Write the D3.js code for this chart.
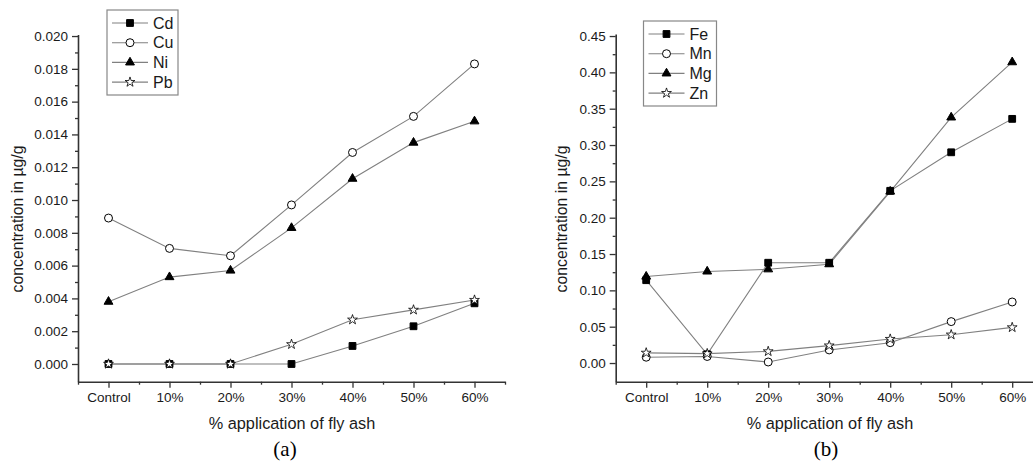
<!DOCTYPE html>
<html>
<head>
<meta charset="utf-8">
<script src="https://cdn.jsdelivr.net/npm/d3@7"></script>
<style>
  body { margin: 0; background: #fff; }
  svg { display: block; font-family: "Liberation Sans", Arial, sans-serif; }
</style>
</head>
<body>
<div id="chart"></div>
<script>
// categories along x
const categories = ["Control", "10%", "20%", "30%", "40%", "50%", "60%"];

// panel (a) series
const cd = [0, 0, 0, 0, 0.0011, 0.0023, 0.0037];
const cu = [0.0089, 0.00705, 0.0066, 0.0097, 0.0129, 0.0151, 0.0183];
const ni = [0.0038, 0.0053, 0.0057, 0.0083, 0.0113, 0.0135, 0.0148];
const pb = [0, 0, 0, 0.0012, 0.0027, 0.0033, 0.0039];

// panel (b) series
const fe = [0.114, 0.012, 0.138, 0.138, 0.237, 0.290, 0.336];
const mn = [0.008, 0.009, 0.0014, 0.018, 0.028, 0.057, 0.084];
const mg = [0.119, 0.126, 0.129, 0.136, 0.236, 0.338, 0.414];
const zn = [0.014, 0.013, 0.016, 0.024, 0.033, 0.039, 0.049];

// tick labels
const ticksA = [0, 0.002, 0.004, 0.006, 0.008, 0.010, 0.012, 0.014, 0.016, 0.018, 0.020];
const ticksB = [0, 0.05, 0.10, 0.15, 0.20, 0.25, 0.30, 0.35, 0.40, 0.45];

const W = 1033, H = 461;
const svg = d3.select("#chart").append("svg")
    .attr("width", W)
    .attr("height", H);

const lineColor = "#808080", axisColor = "#333", textColor = "#1a1a1a";

function markerPath(shape) {
    switch (shape) {
        case "square": return d3.symbol(d3.symbolSquare, 46)();
        case "circle": return d3.symbol(d3.symbolCircle, 50)();
        case "triangle": return d3.symbol(d3.symbolTriangle, 34)();
        case "star": return d3.symbol(d3.symbolStar, 30)();
    }
}
function markerFill(shape) {
    return (shape === "square" || shape === "triangle") ? "#000" : "#fff";
}

function drawPanel(cfg) {
    const x = d3.scaleLinear().domain([-0.5, 6.5]).range([cfg.x0, cfg.x0 + 7 * 61]);
    const y = d3.scaleLinear().domain(cfg.yDomain).range([cfg.yBottom, cfg.yTop]);

    const g = svg.append("g");

    // minor y ticks
    g.append("g")
        .attr("transform", `translate(${cfg.x0},0)`)
        .call(d3.axisLeft(y).tickValues(cfg.minorY).tickSize(3).tickFormat("").tickSizeOuter(0))
        .call(a => a.select(".domain").remove());
    // major y ticks
    const ya = g.append("g")
        .attr("transform", `translate(${cfg.x0},0)`)
        .call(d3.axisLeft(y).tickValues(cfg.ticks).tickSize(6).tickPadding(4)
            .tickFormat(cfg.fmt).tickSizeOuter(0));
    ya.selectAll("text").attr("font-size", 13.5).attr("fill", textColor)
        .attr("font-family", "Liberation Sans, Arial, sans-serif");

    // minor x ticks
    g.append("g")
        .attr("transform", `translate(0,${cfg.yBottom})`)
        .call(d3.axisBottom(x).tickValues(d3.range(7).map(i => i - 0.5).concat([6.5])).tickSize(3).tickFormat("").tickSizeOuter(0))
        .call(a => a.select(".domain").remove());
    const xa = g.append("g")
        .attr("transform", `translate(0,${cfg.yBottom})`)
        .call(d3.axisBottom(x).tickValues(d3.range(7)).tickSize(6).tickPadding(5)
            .tickFormat(i => categories[i]).tickSizeOuter(0));
    xa.selectAll("text").attr("font-size", 13.5).attr("fill", textColor)
        .attr("font-family", "Liberation Sans, Arial, sans-serif");

    g.selectAll(".domain").attr("stroke", axisColor).attr("stroke-width", 1.6);
    g.selectAll(".tick line").attr("stroke", axisColor).attr("stroke-width", 1.3);

    // lines
    const line = d3.line().x((d, i) => x(i)).y(d => y(d));
    cfg.series.forEach(s => {
        g.append("path")
            .attr("d", line(s.values))
            .attr("fill", "none")
            .attr("stroke", lineColor)
            .attr("stroke-width", 1.1);
    });
    // markers
    cfg.series.forEach(s => {
        g.selectAll(null).data(s.values).enter().append("path")
            .attr("d", markerPath(s.shape))
            .attr("transform", (d, i) => `translate(${x(i)},${y(d)})`)
            .attr("fill", markerFill(s.shape))
            .attr("stroke", "#000")
            .attr("stroke-width", s.shape === "star" ? 0.8 : 1);
    });

    // axis titles
    g.append("text")
        .attr("x", cfg.xTitle)
        .attr("y", 429)
        .attr("text-anchor", "middle")
        .attr("font-size", 16.3)
        .attr("fill", textColor)
        .text("% application of fly ash");
    g.append("text")
        .attr("transform", `translate(${cfg.yTitleX},${219}) rotate(-90)`)
        .attr("text-anchor", "middle")
        .attr("font-size", 15.8)
        .attr("fill", textColor)
        .text("concentration in µg/g");
    g.append("text")
        .attr("x", cfg.xLabel)
        .attr("y", 456)
        .attr("text-anchor", "middle")
        .attr("font-size", 21)
        .attr("font-family", "Liberation Serif, Times New Roman, serif")
        .attr("fill", "#000")
        .text(cfg.label);

    // legend
    const lg = g.append("g").attr("transform", `translate(${cfg.legX},${cfg.legY})`);
    lg.append("rect")
        .attr("width", cfg.legW).attr("height", 85)
        .attr("fill", "#fff").attr("stroke", "#888").attr("stroke-width", 1.2);
    cfg.series.forEach((s, i) => {
        const yy = 13 + i * 19.7;
        lg.append("line")
            .attr("x1", 5).attr("x2", 41).attr("y1", yy).attr("y2", yy)
            .attr("stroke", lineColor).attr("stroke-width", 1.1);
        lg.append("path")
            .attr("d", markerPath(s.shape))
            .attr("transform", `translate(23,${yy})`)
            .attr("fill", markerFill(s.shape))
            .attr("stroke", "#000")
            .attr("stroke-width", s.shape === "star" ? 0.8 : 1);
        lg.append("text")
            .attr("x", 46).attr("y", yy).attr("dy", "0.36em")
            .attr("font-size", 16).attr("fill", textColor)
            .text(s.name);
    });
}

drawPanel({
    x0: 78,
    yBottom: 381.7, yTop: 34.4,
    yDomain: [-0.00108, 0.0201],
    ticks: ticksA,
    minorY: d3.range(0, 21).map(i => i * 0.001).filter(v => !ticksA.some(t => Math.abs(t - v) < 1e-9)),
    fmt: d3.format(".3f"),
    series: [
        { name: "Cd", values: cd, shape: "square" },
        { name: "Cu", values: cu, shape: "circle" },
        { name: "Ni", values: ni, shape: "triangle" },
        { name: "Pb", values: pb, shape: "star" }
    ],
    xTitle: 292, yTitleX: 23, xLabel: 285, label: "(a)",
    legX: 107, legY: 10, legW: 71
});

drawPanel({
    x0: 615.7,
    yBottom: 381.7, yTop: 34,
    yDomain: [-0.0257, 0.4528],
    ticks: ticksB,
    minorY: d3.range(0, 19).map(i => i * 0.025).filter(v => !ticksB.some(t => Math.abs(t - v) < 1e-9)),
    fmt: d3.format(".2f"),
    series: [
        { name: "Fe", values: fe, shape: "square" },
        { name: "Mn", values: mn, shape: "circle" },
        { name: "Mg", values: mg, shape: "triangle" },
        { name: "Zn", values: zn, shape: "star" }
    ],
    xTitle: 830, yTitleX: 567, xLabel: 826, label: "(b)",
    legX: 643.5, legY: 21, legW: 73
});
</script>
</body>
</html>
